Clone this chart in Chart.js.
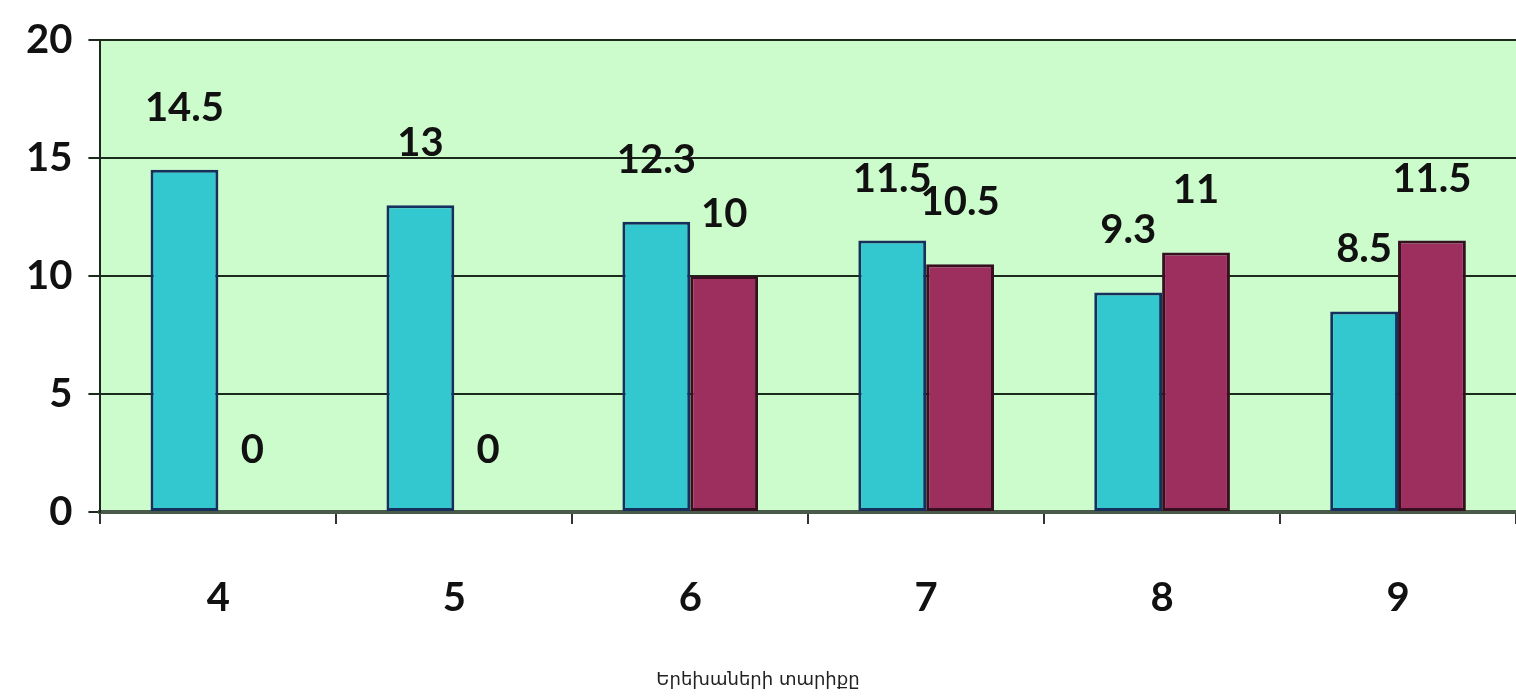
<!DOCTYPE html>
<html>
<head>
<meta charset="utf-8">
<script src="https://cdn.jsdelivr.net/npm/chart.js@4"></script>
<style>
  html, body { margin: 0; padding: 0; background: #fff; }
  #wrap { width: 1516px; height: 700px; }
</style>
</head>
<body>
<div id="wrap"><canvas id="chart" width="1516" height="700"></canvas></div>
<script>
// Ages on the x axis and the two series
const ages = ['4', '5', '6', '7', '8', '9'];
const seriesA = [14.5, 13, 12.3, 11.5, 9.3, 8.5];
const seriesB = [0, 0, 10, 10.5, 11, 11.5];
const yTicks = [0, 5, 10, 15, 20];
const xTitle = 'Երեխաների տարիքը';

const labelFont = 'Lato, "Open Sans", sans-serif';

// Green plot background
const plotBg = {
    id: 'plotBg',
    beforeDraw(chart) {
        const a = chart.chartArea;
        const ctx = chart.ctx;
        ctx.save();
        ctx.fillStyle = '#ccfccc';
        ctx.fillRect(a.left, a.top, a.right - a.left, a.bottom - a.top);
        ctx.restore();
    }
};

// Value labels floating above each bar
const valueLabels = {
    id: 'valueLabels',
    afterDatasetsDraw(chart) {
        const ctx = chart.ctx;
        ctx.save();
        ctx.font = 'bold 40px ' + labelFont;
        ctx.fillStyle = '#111';
        ctx.textAlign = 'center';
        ctx.textBaseline = 'middle';
        chart.data.datasets.forEach((ds, i) => {
            chart.getDatasetMeta(i).data.forEach((bar, j) => {
                ctx.fillText(String(ds.data[j]), bar.x, bar.y - 62);
            });
        });
        ctx.restore();
    }
};

// Axis title, a little left of the plot centre as in the original
const axisTitle = {
    id: 'axisTitle',
    afterDraw(chart) {
        const ctx = chart.ctx;
        ctx.save();
        ctx.font = '18px "DejaVu Sans", sans-serif';
        ctx.fillStyle = '#222';
        ctx.textAlign = 'center';
        ctx.textBaseline = 'middle';
        ctx.fillText(xTitle, 758, 680);
        ctx.restore();
    }
};

new Chart(document.getElementById('chart'), {
    type: 'bar',
    data: {
        labels: ages,
        datasets: [
            {
                data: seriesA,
                backgroundColor: '#33c8d0',
                borderColor: '#16305e',
                borderWidth: 3,
                borderSkipped: false
            },
            {
                data: seriesB,
                backgroundColor: '#9c2f5e',
                borderColor: '#361020',
                borderWidth: 3,
                borderSkipped: false
            }
        ]
    },
    options: {
        responsive: false,
        animation: false,
        layout: { padding: { top: 14, right: 0, left: 10, bottom: 28 } },
        datasets: {
            bar: { categoryPercentage: 0.575, barPercentage: 1 }
        },
        plugins: {
            legend: { display: false },
            tooltip: { enabled: false }
        },
        scales: {
            x: {
                grid: {
                    offset: true,
                    drawOnChartArea: false,
                    drawTicks: true,
                    tickLength: 12,
                    color: '#333',
                    lineWidth: 2
                },
                border: { color: '#4a5a4a', width: 4 },
                ticks: {
                    color: '#111',
                    padding: 50,
                    font: { family: labelFont, size: 40, weight: 'bold' }
                }
            },
            y: {
                min: 0,
                max: 20,
                afterBuildTicks(axis) {
                    axis.ticks = yTicks.map(v => ({ value: v }));
                },
                grid: {
                    color: '#1c2a1c',
                    lineWidth: 2,
                    tickLength: 12
                },
                border: { color: '#1c2a1c', width: 2 },
                ticks: {
                    color: '#111',
                    padding: 16,
                    font: { family: labelFont, size: 40, weight: 'bold' }
                }
            }
        }
    },
    plugins: [plotBg, valueLabels, axisTitle]
});
</script>
</body>
</html>
